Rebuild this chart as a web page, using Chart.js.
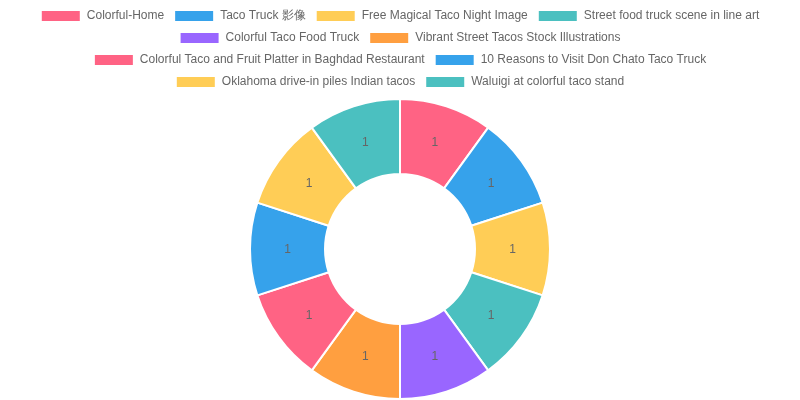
<!DOCTYPE html>
<html>
<head>
<meta charset="utf-8">
<script src="https://cdn.jsdelivr.net/npm/chart.js@4"></script>
<style>
  html, body { margin: 0; padding: 0; background: #fff; }
  #wrap { width: 800px; height: 400px; }
</style>
</head>
<body>
<div id="wrap"><canvas id="chart"></canvas></div>
<script>
// ------------------------------------
// Data
// ------------------------------------
const labels = [
    "Colorful-Home",
    "Taco Truck 影像",
    "Free Magical Taco Night Image",
    "Street food truck scene in line art",
    "Colorful Taco Food Truck",
    "Vibrant Street Tacos Stock Illustrations",
    "Colorful Taco and Fruit Platter in Baghdad Restaurant",
    "10 Reasons to Visit Don Chato Taco Truck",
    "Oklahoma drive-in piles Indian tacos",
    "Waluigi at colorful taco stand"
];
const counts = [1, 1, 1, 1, 1, 1, 1, 1, 1, 1];
const palette = ['#ff6384', '#36a2eb', '#ffcd56', '#4bc0c0', '#9966ff', '#ff9f40'];

// simple value labels at slice centres
const sliceLabels = {
    id: 'sliceLabels',
    afterDatasetsDraw(chart) {
        const ctx = chart.ctx;
        const meta = chart.getDatasetMeta(0);
        ctx.save();
        ctx.font = '12px "Liberation Sans", Arial, sans-serif';
        ctx.fillStyle = '#666';
        ctx.textAlign = 'center';
        ctx.textBaseline = 'middle';
        meta.data.forEach((arc, i) => {
            const p = arc.tooltipPosition();
            ctx.fillText(String(chart.data.datasets[0].data[i]), p.x, p.y + 1);
        });
        ctx.restore();
    }
};

window.onload = function() {
    Chart.defaults.font.family = '"Liberation Sans", Arial, sans-serif';
    const ctx = document.getElementById('chart').getContext('2d');
    new Chart(ctx, {
        type: 'doughnut',
        data: {
            labels: labels,
            datasets: [{
                data: counts,
                backgroundColor: labels.map((_, i) => palette[i % palette.length]),
                borderColor: '#fff',
                borderWidth: 2
            }]
        },
        options: {
            responsive: true,
            maintainAspectRatio: false,
            animation: false,
            plugins: {
                legend: {
                    position: 'top',
                    labels: { color: '#666', font: { size: 12 } }
                },
                tooltip: { enabled: false }
            }
        },
        plugins: [sliceLabels]
    });
};
</script>
</body>
</html>
